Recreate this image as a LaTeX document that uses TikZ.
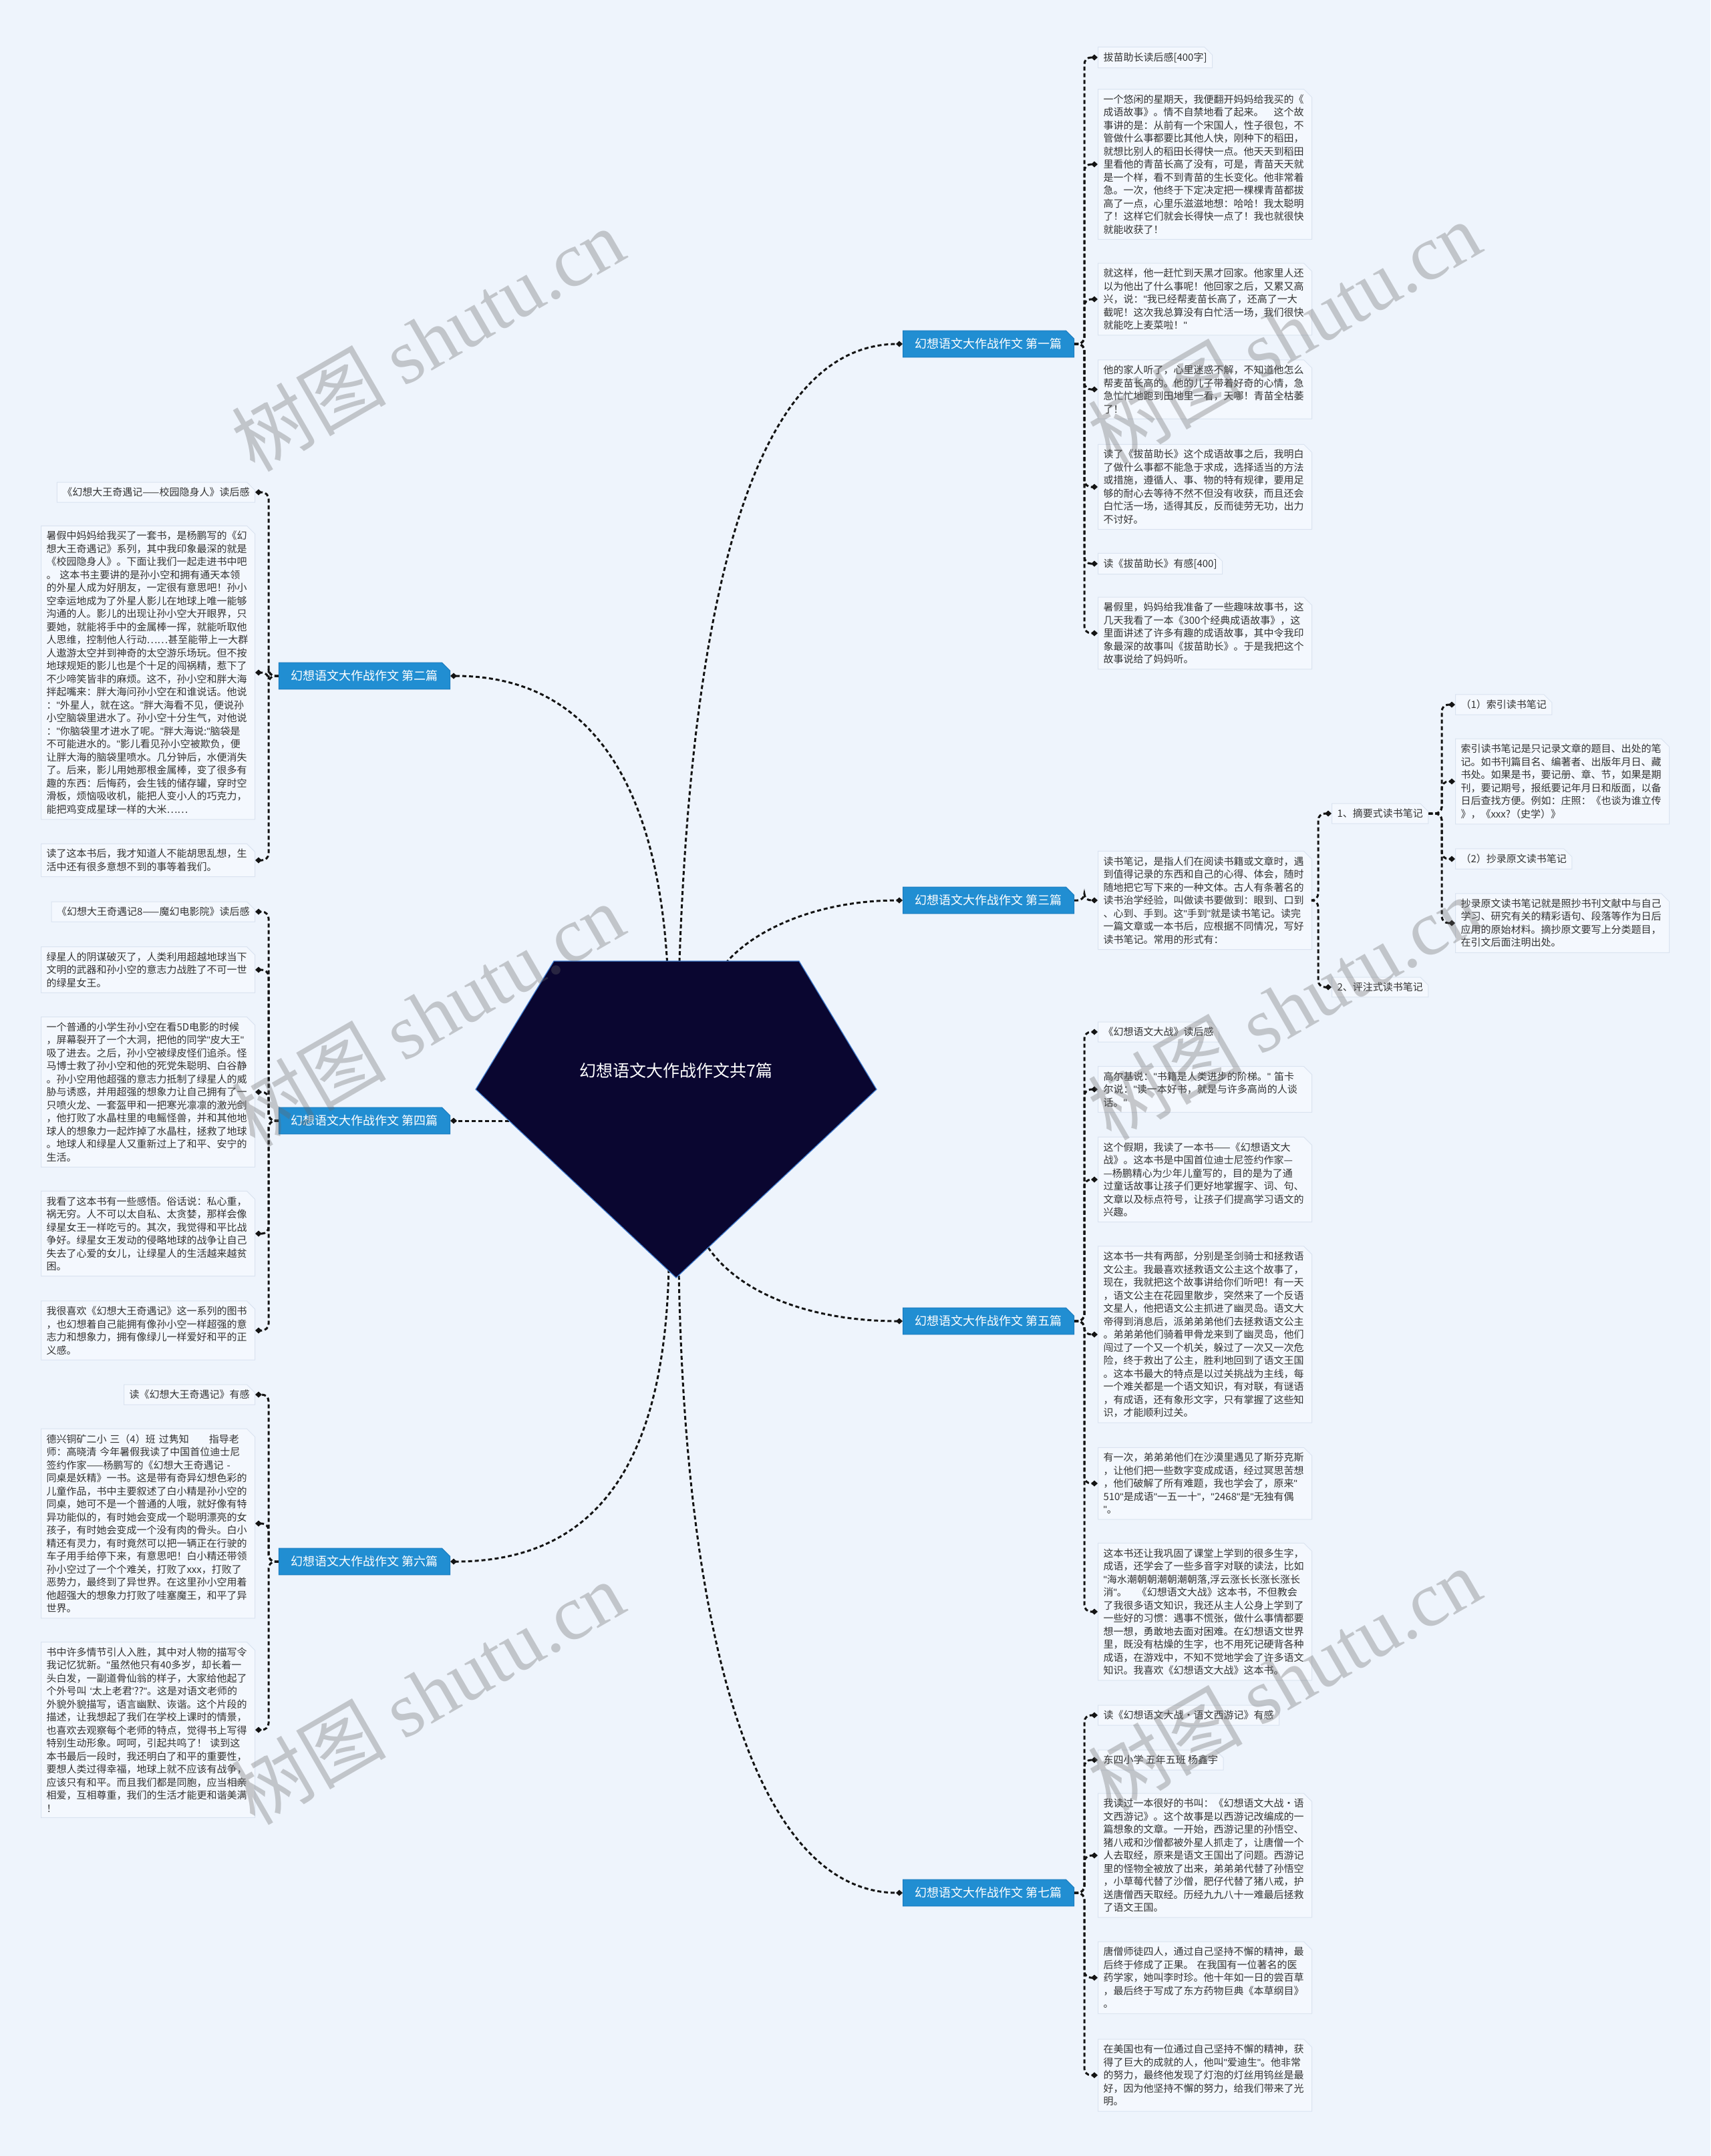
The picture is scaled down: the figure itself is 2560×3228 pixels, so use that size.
\documentclass[tikz,border=0pt]{standalone}
\usepackage{fontspec}
\setmainfont{Noto Sans CJK SC}
\newfontfamily\wmserif{Liberation Serif}
\newfontfamily\latinf{Liberation Sans}
\newcommand\dqt{{\latinf"}}
\usetikzlibrary{arrows.meta,shapes.misc,calc}
\definecolor{bgc}{HTML}{EEF4FC}
\definecolor{boxfill}{HTML}{F4F8FE}
\definecolor{boxline}{HTML}{DAE3F0}
\definecolor{labblue}{HTML}{218ED2}
\definecolor{labline}{HTML}{1A7CC0}
\definecolor{rootfill}{HTML}{0A0630}
\definecolor{rootline}{HTML}{3F7CD0}
\definecolor{txt}{HTML}{333333}
\tikzset{
  boxbase/.style={chamfered rectangle, chamfered rectangle corners=north east,
    chamfered rectangle xsep=3pt, chamfered rectangle ysep=3pt,
    fill=boxfill, draw=boxline, line width=0.5pt, text=txt,
    font=\fontsize{7.5pt}{9.75pt}\selectfont, inner xsep=1pt, inner ysep=1pt},
  para/.style={boxbase, text width=152pt, align=left},
  tag/.style={boxbase, align=left},
  branch/.style={chamfered rectangle, chamfered rectangle corners=north east,
    chamfered rectangle xsep=3pt, chamfered rectangle ysep=3pt,
    fill=labblue, draw=labline, line width=0.5pt, text=white,
    font=\fontsize{9pt}{11pt}\selectfont, inner xsep=6pt, inner ysep=2.75pt},
  conn/.style={draw=black!92, line width=1.5pt, dash pattern=on 3pt off 2pt,
    rounded corners=5pt, -{Diamond[length=5pt,width=4.5pt]}},
  wm/.style={text=black!60, opacity=0.33, rotate=30, font=\fontsize{58pt}{58pt}\selectfont, inner sep=0pt}
}
\begin{document}
\begin{tikzpicture}[x=0.5pt,y=-0.5pt]
\fill[bgc] (0,0) rectangle (2560,3228);
\useasboundingbox (0,0) rectangle (2560,3228);

% ---------- branch labels ----------
\node[branch, anchor=west] (b1) at (1351,515) {幻想语文大作战作文 第一篇};
\node[branch, anchor=west] (b3) at (1351,1348) {幻想语文大作战作文 第三篇};
\node[branch, anchor=west] (b5) at (1351,1978) {幻想语文大作战作文 第五篇};
\node[branch, anchor=west] (b7) at (1351,2834) {幻想语文大作战作文 第七篇};
\node[branch, anchor=east] (b2) at (674,1012) {幻想语文大作战作文 第二篇};
\node[branch, anchor=east] (b4) at (674,1678) {幻想语文大作战作文 第四篇};
\node[branch, anchor=east] (b6) at (674,2338) {幻想语文大作战作文 第六篇};

% ---------- root ----------
\coordinate (r1) at (1016,1470);
\coordinate (r2) at (1000,1470);
\coordinate (r3) at (1080,1450);
\coordinate (r4) at (762,1678);
\coordinate (r5) at (1060,1868);
\coordinate (r6) at (1001,1900);
\coordinate (r7) at (1016,1900);
\draw[conn] (r1) .. controls (1030,1000) and (1100,515) .. (b1.west);
\draw[conn] (r2) .. controls (990,1200) and (900,1012) .. (b2.east);
\draw[conn] (r3) .. controls (1120,1395) and (1220,1348) .. (b3.west);
\draw[conn] (r4) -- (b4.east);
\draw[conn] (r5) .. controls (1110,1940) and (1220,1978) .. (b5.west);
\draw[conn] (r6) .. controls (995,2150) and (920,2338) .. (b6.east);
\draw[conn] (r7) .. controls (1025,2450) and (1130,2834) .. (b7.west);
\coordinate (pTL) at (829,1439);
\coordinate (pTR) at (1196,1439);
\coordinate (pR) at (1312,1631);
\coordinate (pB) at (1012,1913);
\coordinate (pL) at (712,1631);
\filldraw[fill=rootfill, draw=rootline, line width=0.6pt] (pTL) -- (pTR) -- (pR) -- (pB) -- (pL) -- cycle;
\node[text=white, font=\fontsize{12.5pt}{14pt}\selectfont, inner sep=0pt] (root) at (1012,1603) {幻想语文大作战作文共7篇};

% ---------- branch 1 ----------
\node[tag, anchor=west] (c1a) at (1643,86) {拔苗助长读后感[400字]};
\node[para, anchor=west] (c1b) at (1643,246) {一个悠闲的星期天，我便翻开妈妈给我买的《\\成语故事》。情不自禁地看了起来。　这个故\\事讲的是：从前有一个宋国人，性子很包，不\\管做什么事都要比其他人快，刚种下的稻田，\\就想比别人的稻田长得快一点。他天天到稻田\\里看他的青苗长高了没有，可是，青苗天天就\\是一个样，看不到青苗的生长变化。他非常着\\急。一次，他终于下定决定把一棵棵青苗都拔\\高了一点，心里乐滋滋地想：哈哈！我太聪明\\了！这样它们就会长得快一点了！我也就很快\\就能收获了！};
\node[para, anchor=west] (c1c) at (1643,448) {就这样，他一赶忙到天黑才回家。他家里人还\\以为他出了什么事呢！他回家之后，又累又高\\兴，说：\dqt{}我已经帮麦苗长高了，还高了一大\\截呢！这次我总算没有白忙活一场，我们很快\\就能吃上麦菜啦！\dqt{}};
\node[para, anchor=west] (c1d) at (1643,583) {他的家人听了，心里迷惑不解，不知道他怎么\\帮麦苗长高的。他的儿子带着好奇的心情，急\\急忙忙地跑到田地里一看，天哪！青苗全枯萎\\了！};
\node[para, anchor=west] (c1e) at (1643,729) {读了《拔苗助长》这个成语故事之后，我明白\\了做什么事都不能急于求成，选择适当的方法\\或措施，遵循人、事、物的特有规律，要用足\\够的耐心去等待不然不但没有收获，而且还会\\白忙活一场，适得其反，反而徒劳无功，出力\\不讨好。};
\node[tag, anchor=west] (c1f) at (1643,844) {读《拔苗助长》有感[400]};
\node[para, anchor=west] (c1g) at (1643,948) {暑假里，妈妈给我准备了一些趣味故事书，这\\几天我看了一本《300个经典成语故事》，这\\里面讲述了许多有趣的成语故事，其中令我印\\象最深的故事叫《拔苗助长》。于是我把这个\\故事说给了妈妈听。};
\foreach \c in {c1a,c1b,c1c,c1d,c1e,c1f,c1g}
  \draw[conn] (b1.east) -| ($(\c.west)+(-20,0)$) -- (\c.west);

% ---------- branch 3 ----------
\node[para, anchor=west] (c3a) at (1643,1348) {读书笔记，是指人们在阅读书籍或文章时，遇\\到值得记录的东西和自己的心得、体会，随时\\随地把它写下来的一种文体。古人有条著名的\\读书治学经验，叫做读书要做到：眼到、口到\\、心到、手到。这\dqt{}手到\dqt{}就是读书笔记。读完\\一篇文章或一本书后，应根据不同情况，写好\\读书笔记。常用的形式有：};
\node[tag, anchor=west] (c3b) at (1993,1218) {1、摘要式读书笔记};
\node[tag, anchor=west] (c3c) at (1993,1478) {2、评注式读书笔记};
\node[tag, anchor=west] (c3d) at (2178,1055) {（1）索引读书笔记};
\node[para, anchor=west] (c3e) at (2178,1170) {索引读书笔记是只记录文章的题目、出处的笔\\记。如书刊篇目名、编著者、出版年月日、藏\\书处。如果是书，要记册、章、节，如果是期\\刊，要记期号，报纸要记年月日和版面，以备\\日后查找方便。例如：庄照：《也谈为谁立传\\》，《xxx?（史学）》};
\node[tag, anchor=west] (c3f) at (2178,1286) {（2）抄录原文读书笔记};
\node[para, anchor=west] (c3g) at (2178,1382) {抄录原文读书笔记就是照抄书刊文献中与自己\\学习、研究有关的精彩语句、段落等作为日后\\应用的原始材料。摘抄原文要写上分类题目，\\在引文后面注明出处。};
\draw[conn] (b3.east) -| ($(c3a.west)+(-20,0)$) -- (c3a.west);
\foreach \c in {c3b,c3c}
  \draw[conn] (c3a.east) -| ($(\c.west)+(-20,0)$) -- (\c.west);
\foreach \c in {c3d,c3e,c3f,c3g}
  \draw[conn] (c3b.east) -| ($(\c.west)+(-20,0)$) -- (\c.west);

% ---------- branch 5 ----------
\node[tag, anchor=west] (c5a) at (1643,1545) {《幻想语文大战》读后感};
\node[para, anchor=west] (c5b) at (1643,1631) {高尔基说：\dqt{}书籍是人类进步的阶梯。\dqt{}~笛卡\\尔说：\dqt{}读一本好书，就是与许多高尚的人谈\\话。\dqt{}};
\node[para, anchor=west] (c5c) at (1643,1766) {这个假期，我读了一本书——《幻想语文大\\战》。这本书是中国首位迪士尼签约作家—\\—杨鹏精心为少年儿童写的，目的是为了通\\过童话故事让孩子们更好地掌握字、词、句、\\文章以及标点符号，让孩子们提高学习语文的\\兴趣。};
\node[para, anchor=west] (c5d) at (1643,1998) {这本书一共有两部，分别是圣剑骑士和拯救语\\文公主。我最喜欢拯救语文公主这个故事了，\\现在，我就把这个故事讲给你们听吧！有一天\\，语文公主在花园里散步，突然来了一个反语\\文星人，他把语文公主抓进了幽灵岛。语文大\\帝得到消息后，派弟弟弟他们去拯救语文公主\\。弟弟弟他们骑着甲骨龙来到了幽灵岛，他们\\闯过了一个又一个机关，躲过了一次又一次危\\险，终于救出了公主，胜利地回到了语文王国\\。这本书最大的特点是以过关挑战为主线，每\\一个难关都是一个语文知识，有对联，有谜语\\，有成语，还有象形文字，只有掌握了这些知\\识，才能顺利过关。};
\node[para, anchor=west] (c5e) at (1643,2221) {有一次，弟弟弟他们在沙漠里遇见了斯芬克斯\\，让他们把一些数字变成成语，经过冥思苦想\\，他们破解了所有难题，我也学会了，原来\dqt{}\\510\dqt{}是成语\dqt{}一五一十\dqt{}，\dqt{}2468\dqt{}是\dqt{}无独有偶\\\dqt{}。};
\node[para, anchor=west] (c5f) at (1643,2413) {这本书还让我巩固了课堂上学到的很多生字，\\成语，还学会了一些多音字对联的读法，比如\\\dqt{}海水潮朝朝潮朝潮朝落,浮云涨长长涨长涨长\\消\dqt{}。　《幻想语文大战》这本书，不但教会\\了我很多语文知识，我还从主人公身上学到了\\一些好的习惯：遇事不慌张，做什么事情都要\\想一想，勇敢地去面对困难。在幻想语文世界\\里，既没有枯燥的生字，也不用死记硬背各种\\成语，在游戏中，不知不觉地学会了许多语文\\知识。我喜欢《幻想语文大战》这本书。};
\foreach \c in {c5a,c5b,c5c,c5d,c5e,c5f}
  \draw[conn] (b5.east) -| ($(\c.west)+(-20,0)$) -- (\c.west);

% ---------- branch 7 ----------
\node[tag, anchor=west] (c7a) at (1643,2568) {读《幻想语文大战·语文西游记》有感};
\node[tag, anchor=west] (c7b) at (1643,2635) {东四小学 五年五班 杨鑫宇};
\node[para, anchor=west] (c7c) at (1643,2778) {我读过一本很好的书叫：《幻想语文大战·语\\文西游记》。这个故事是以西游记改编成的一\\篇想象的文章。一开始，西游记里的孙悟空、\\猪八戒和沙僧都被外星人抓走了，让唐僧一个\\人去取经，原来是语文王国出了问题。西游记\\里的怪物全被放了出来，弟弟弟代替了孙悟空\\，小草莓代替了沙僧，肥仔代替了猪八戒，护\\送唐僧西天取经。历经九九八十一难最后拯救\\了语文王国。};
\node[para, anchor=west] (c7d) at (1643,2961) {唐僧师徒四人，通过自己坚持不懈的精神，最\\后终于修成了正果。~在我国有一位著名的医\\药学家，她叫李时珍。他十年如一日的尝百草\\，最后终于写成了东方药物巨典《本草纲目》\\。};
\node[para, anchor=west] (c7e) at (1643,3107) {在美国也有一位通过自己坚持不懈的精神，获\\得了巨大的成就的人，他叫\dqt{}爱迪生\dqt{}。他非常\\的努力，最终他发现了灯泡的灯丝用钨丝是最\\好，因为他坚持不懈的努力，给我们带来了光\\明。};
\foreach \c in {c7a,c7b,c7c,c7d,c7e}
  \draw[conn] (b7.east) -| ($(\c.west)+(-20,0)$) -- (\c.west);

% ---------- branch 2 ----------
\node[tag, anchor=east] (c2a) at (382,737) {《幻想大王奇遇记——校园隐身人》读后感};
\node[para, anchor=east] (c2b) at (382,1007) {暑假中妈妈给我买了一套书，是杨鹏写的《幻\\想大王奇遇记》系列，其中我印象最深的就是\\《校园隐身人》。下面让我们一起走进书中吧\\。~这本书主要讲的是孙小空和拥有通天本领\\的外星人成为好朋友，一定很有意思吧！孙小\\空幸运地成为了外星人影儿在地球上唯一能够\\沟通的人。影儿的出现让孙小空大开眼界，只\\要她，就能将手中的金属棒一挥，就能听取他\\人思维，控制他人行动……甚至能带上一大群\\人遨游太空并到神奇的太空游乐场玩。但不按\\地球规矩的影儿也是个十足的闯祸精，惹下了\\不少啼笑皆非的麻烦。这不，孙小空和胖大海\\拌起嘴来：胖大海问孙小空在和谁说话。他说\\：\dqt{}外星人，就在这。\dqt{}胖大海看不见，便说孙\\小空脑袋里进水了。孙小空十分生气，对他说\\：\dqt{}你脑袋里才进水了呢。\dqt{}胖大海说:\dqt{}脑袋是\\不可能进水的。\dqt{}影儿看见孙小空被欺负，便\\让胖大海的脑袋里喷水。几分钟后，水便消失\\了。后来，影儿用她那根金属棒，变了很多有\\趣的东西：后悔药，会生钱的储存罐，穿时空\\滑板，烦恼吸收机，能把人变小人的巧克力，\\能把鸡变成星球一样的大米……};
\node[para, anchor=east] (c2c) at (382,1288) {读了这本书后，我才知道人不能胡思乱想，生\\活中还有很多意想不到的事等着我们。};
\foreach \c in {c2a,c2b,c2c}
  \draw[conn] (b2.west) -| ($(\c.east)+(20,0)$) -- (\c.east);

% ---------- branch 4 ----------
\node[tag, anchor=east] (c4a) at (382,1365) {《幻想大王奇遇记8——魔幻电影院》读后感};
\node[para, anchor=east] (c4b) at (382,1452) {绿星人的阴谋破灭了，人类利用超越地球当下\\文明的武器和孙小空的意志力战胜了不可一世\\的绿星女王。};
\node[para, anchor=east] (c4c) at (382,1635) {一个普通的小学生孙小空在看5D电影的时候\\，屏幕裂开了一个大洞，把他的同学\dqt{}皮大王\dqt{}\\吸了进去。之后，孙小空被绿皮怪们追杀。怪\\马博士救了孙小空和他的死党朱聪明、白谷静\\。孙小空用他超强的意志力抵制了绿星人的威\\胁与诱惑，并用超强的想象力让自己拥有了一\\只喷火龙、一套盔甲和一把寒光凛凛的激光剑\\，他打败了水晶柱里的电鳐怪兽，并和其他地\\球人的想象力一起炸掉了水晶柱，拯救了地球\\。地球人和绿星人又重新过上了和平、安宁的\\生活。};
\node[para, anchor=east] (c4d) at (382,1847) {我看了这本书有一些感悟。俗话说：私心重，\\祸无穷。人不可以太自私、太贪婪，那样会像\\绿星女王一样吃亏的。其次，我觉得和平比战\\争好。绿星女王发动的侵略地球的战争让自己\\失去了心爱的女儿，让绿星人的生活越来越贫\\困。};
\node[para, anchor=east] (c4e) at (382,1992) {我很喜欢《幻想大王奇遇记》这一系列的图书\\，也幻想着自己能拥有像孙小空一样超强的意\\志力和想象力，拥有像绿儿一样爱好和平的正\\义感。};
\foreach \c in {c4a,c4b,c4c,c4d,c4e}
  \draw[conn] (b4.west) -| ($(\c.east)+(20,0)$) -- (\c.east);

% ---------- branch 6 ----------
\node[tag, anchor=east] (c6a) at (382,2088) {读《幻想大王奇遇记》有感};
\node[para, anchor=east] (c6b) at (382,2281) {德兴铜矿二小~三（4）班~过隽知　　指导老\\师：高晓清~今年暑假我读了中国首位迪士尼\\签约作家——杨鹏写的《幻想大王奇遇记~-\\同桌是妖精》一书。这是带有奇异幻想色彩的\\儿童作品，书中主要叙述了白小精是孙小空的\\同桌，她可不是一个普通的人哦，就好像有特\\异功能似的，有时她会变成一个聪明漂亮的女\\孩子，有时她会变成一个没有肉的骨头。白小\\精还有灵力，有时竟然可以把一辆正在行驶的\\车子用手给停下来，有意思吧！白小精还带领\\孙小空过了一个个难关，打败了xxx，打败了\\恶势力，最终到了异世界。在这里孙小空用着\\他超强大的想象力打败了哇塞魔王，和平了异\\世界。};
\node[para, anchor=east] (c6c) at (382,2590) {书中许多情节引人入胜，其中对人物的描写令\\我记忆犹新。\dqt{}虽然他只有40多岁，却长着一\\头白发，一副道骨仙翁的样子，大家给他起了\\个外号叫~{\latinf‘}太上老君{\latinf'}??\dqt{}。这是对语文老师的\\外貌外貌描写，语言幽默、诙谐。这个片段的\\描述，让我想起了我们在学校上课时的情景，\\也喜欢去观察每个老师的特点，觉得书上写得\\特别生动形象。呵呵，引起共鸣了！~读到这\\本书最后一段时，我还明白了和平的重要性，\\要想人类过得幸福，地球上就不应该有战争，\\应该只有和平。而且我们都是同胞，应当相亲\\相爱，互相尊重，我们的生活才能更和谐美满\\！};
\foreach \c in {c6a,c6b,c6c}
  \draw[conn] (b6.west) -| ($(\c.east)+(20,0)$) -- (\c.east);

% ---------- watermarks ----------
\node[wm] (wm1) at (640,508) {树图 {\wmserif shutu.cn}};
\node[wm] (wm2) at (1922,498) {树图 {\wmserif shutu.cn}};
\node[wm] (wm3) at (640,1519) {树图 {\wmserif shutu.cn}};
\node[wm] (wm4) at (1922,1509) {树图 {\wmserif shutu.cn}};
\node[wm] (wm5) at (640,2534) {树图 {\wmserif shutu.cn}};
\node[wm] (wm6) at (1922,2514) {树图 {\wmserif shutu.cn}};
\end{tikzpicture}
\end{document}
